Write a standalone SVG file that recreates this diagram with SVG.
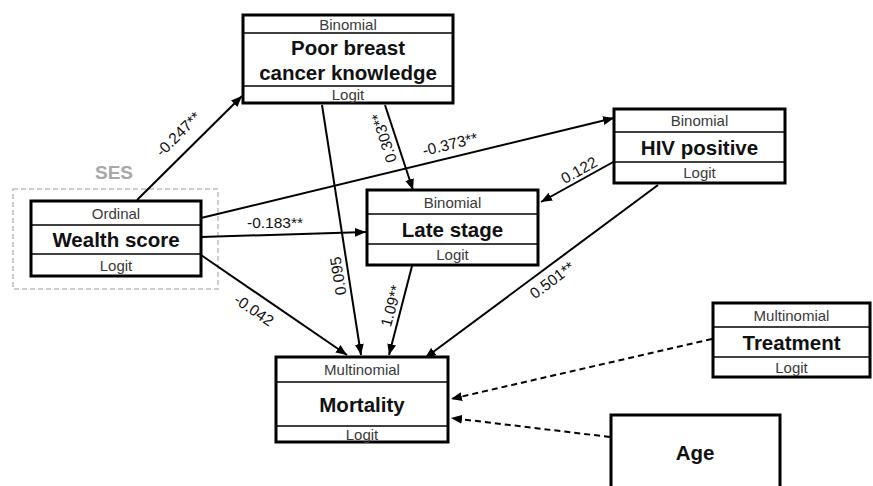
<svg xmlns="http://www.w3.org/2000/svg" width="873" height="486" viewBox="0 0 873 486">
<style>
.box{fill:#fff;stroke:#000;stroke-width:3}
.div{stroke:#000;stroke-width:1.3}
.sm{font-family:"Liberation Sans",Arial,sans-serif;font-size:15px;fill:#3a3a3a;text-anchor:middle;dominant-baseline:central}
.big{font-family:"Liberation Sans",Arial,sans-serif;font-size:20.5px;font-weight:bold;fill:#111;text-anchor:middle;dominant-baseline:central}
.edge{stroke:#000;stroke-width:2;fill:none}
.dash{stroke:#000;stroke-width:2;fill:none;stroke-dasharray:6 4}
.lbl{font-family:"Liberation Sans",Arial,sans-serif;font-size:15.5px;fill:#111;text-anchor:middle;dominant-baseline:central}
</style>
<defs>
<marker id="ah" markerUnits="userSpaceOnUse" markerWidth="12" markerHeight="10" refX="11" refY="5" orient="auto">
<path d="M0,0.5 L11,5 L0,9.5 z" fill="#000"/>
</marker>
</defs>
<rect width="873" height="486" fill="#fff"/>

<g id="ses">
<rect x="13" y="189" width="205" height="100" fill="none" stroke="#bdbdbd" stroke-width="1.5" stroke-dasharray="5 3"/>
<text x="114" y="172" font-family="Liberation Sans,Arial,sans-serif" font-size="19" font-weight="bold" fill="#a8a8a8" text-anchor="middle" dominant-baseline="central">SES</text>
</g>

<g id="connectors">
<line class="edge" x1="137" y1="200" x2="242" y2="96" marker-end="url(#ah)"/>
<line class="edge" x1="201" y1="218" x2="614" y2="118" marker-end="url(#ah)"/>
<line class="edge" x1="201" y1="237" x2="366" y2="232" marker-end="url(#ah)"/>
<line class="edge" x1="201" y1="255" x2="347" y2="355" marker-end="url(#ah)"/>
<line class="edge" x1="322" y1="105" x2="361" y2="355" marker-end="url(#ah)"/>
<line class="edge" x1="385" y1="105" x2="413" y2="190" marker-end="url(#ah)"/>
<line class="edge" x1="615" y1="161" x2="541" y2="202" marker-end="url(#ah)"/>
<line class="edge" x1="412" y1="266" x2="389" y2="355" marker-end="url(#ah)"/>
<line class="edge" x1="658" y1="185" x2="425" y2="358" marker-end="url(#ah)"/>
<line class="dash" x1="712" y1="339" x2="451" y2="399" marker-end="url(#ah)"/>
<line class="dash" x1="610" y1="437" x2="451" y2="418" marker-end="url(#ah)"/>
<text class="lbl" transform="translate(178,134) rotate(-44.7)">-0.247**</text>
<text class="lbl" transform="translate(450,144) rotate(-13.6)">-0.373**</text>
<text class="lbl" x="275" y="222">-0.183**</text>
<text class="lbl" transform="translate(254,310) rotate(34.3)">-0.042</text>
<text class="lbl" transform="translate(338,276) rotate(-99)">0.095</text>
<text class="lbl" transform="translate(384,138) rotate(-108)">0.303**</text>
<text class="lbl" transform="translate(579,170) rotate(-29)">0.122</text>
<text class="lbl" transform="translate(391,306) rotate(-75)">1.09**</text>
<text class="lbl" transform="translate(552,280) rotate(-36.5)">0.501**</text>
</g>

<g id="wealth">
<rect class="box" x="31" y="201" width="170" height="75"/>
<line class="div" x1="31" y1="225" x2="201" y2="225"/>
<line class="div" x1="31" y1="254" x2="201" y2="254"/>
<text class="sm" x="116" y="213">Ordinal</text>
<text class="big" x="116" y="239.5">Wealth score</text>
<text class="sm" x="116" y="265">Logit</text>
</g>

<g id="poor">
<rect class="box" x="243" y="15" width="210" height="88"/>
<line class="div" x1="243" y1="33" x2="453" y2="33"/>
<line class="div" x1="243" y1="86" x2="453" y2="86"/>
<text class="sm" x="348" y="24">Binomial</text>
<text class="big" x="348" y="47">Poor breast</text>
<text class="big" x="348" y="72">cancer knowledge</text>
<text class="sm" x="348" y="94.5">Logit</text>
</g>

<g id="hiv">
<rect class="box" x="614" y="109" width="171" height="74"/>
<line class="div" x1="614" y1="132" x2="785" y2="132"/>
<line class="div" x1="614" y1="162" x2="785" y2="162"/>
<text class="sm" x="699.5" y="120.5">Binomial</text>
<text class="big" x="699.5" y="147">HIV positive</text>
<text class="sm" x="699.5" y="172.5">Logit</text>
</g>

<g id="late">
<rect class="box" x="367" y="190" width="171" height="75"/>
<line class="div" x1="367" y1="214" x2="538" y2="214"/>
<line class="div" x1="367" y1="244" x2="538" y2="244"/>
<text class="sm" x="452.5" y="202">Binomial</text>
<text class="big" x="452.5" y="229">Late stage</text>
<text class="sm" x="452.5" y="254.5">Logit</text>
</g>

<g id="mortality">
<rect class="box" x="276" y="357" width="172" height="85"/>
<line class="div" x1="276" y1="382" x2="448" y2="382"/>
<line class="div" x1="276" y1="426" x2="448" y2="426"/>
<text class="sm" x="362" y="369.5">Multinomial</text>
<text class="big" x="362" y="404" font-size="24">Mortality</text>
<text class="sm" x="362" y="434">Logit</text>
</g>

<g id="treatment">
<rect class="box" x="713" y="303" width="157" height="74"/>
<line class="div" x1="713" y1="327" x2="870" y2="327"/>
<line class="div" x1="713" y1="357" x2="870" y2="357"/>
<text class="sm" x="791.5" y="315">Multinomial</text>
<text class="big" x="791.5" y="342">Treatment</text>
<text class="sm" x="791.5" y="367">Logit</text>
</g>

<g id="age">
<rect class="box" x="611" y="415" width="169" height="80"/>
<text class="big" x="695" y="452">Age</text>
</g>
</svg>
